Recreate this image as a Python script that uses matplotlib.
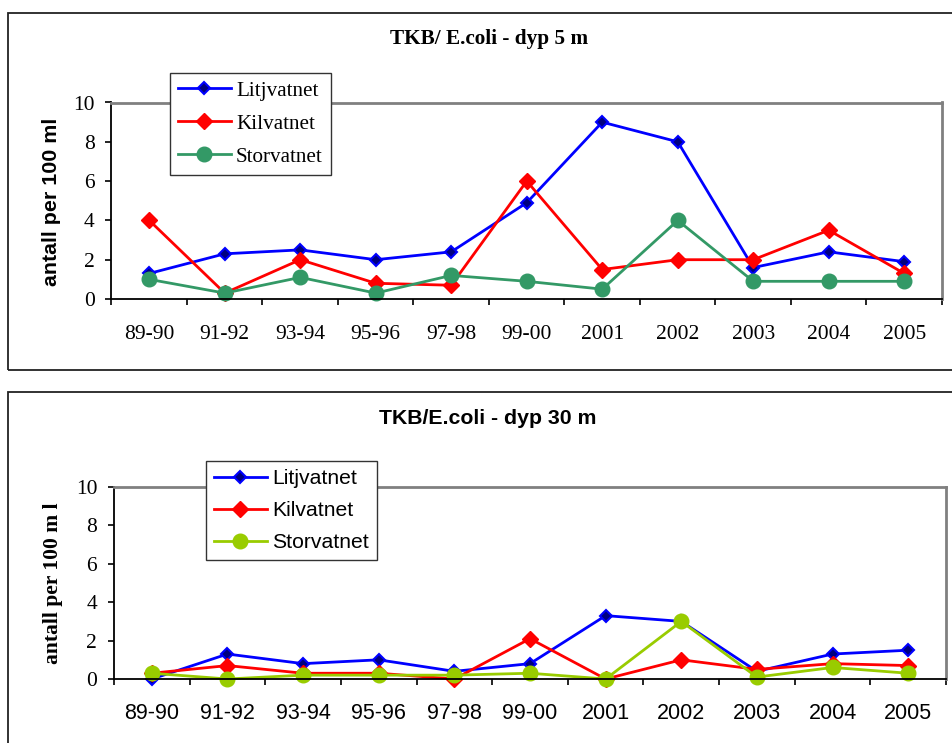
import numpy as np
import matplotlib
matplotlib.use("Agg")
from matplotlib import pyplot as plt
from matplotlib.patches import Rectangle

W, H = 953, 743

categories = ["89-90", "91-92", "93-94", "95-96", "97-98", "99-00",
              "2001", "2002", "2003", "2004", "2005"]

# dyp 5 m
lit_5 = [1.3, 2.3, 2.5, 2.0, 2.4, 4.9, 9.0, 8.0, 1.6, 2.4, 1.9]
kil_5 = [4.0, 0.3, 2.0, 0.8, 0.7, 6.0, 1.5, 2.0, 2.0, 3.5, 1.3]
sto_5 = [1.0, 0.3, 1.1, 0.3, 1.2, 0.9, 0.5, 4.0, 0.9, 0.9, 0.9]

# dyp 30 m
lit_30 = [0.0, 1.3, 0.8, 1.0, 0.4, 0.8, 3.3, 3.0, 0.4, 1.3, 1.5]
kil_30 = [0.3, 0.7, 0.3, 0.3, 0.0, 2.1, 0.0, 1.0, 0.5, 0.8, 0.7]
sto_30 = [0.3, 0.0, 0.2, 0.2, 0.2, 0.3, 0.0, 3.0, 0.1, 0.6, 0.3]

series_names = ["Litjvatnet", "Kilvatnet", "Storvatnet"]

SERIF = "Liberation Serif"
SANS = "Liberation Sans"

fig = plt.figure(figsize=(W / 100, H / 100), dpi=100)


def px_rect(left, top, right, bottom):
    return [left / W, 1 - bottom / H, (right - left) / W, (bottom - top) / H]


def panel_border(left, top, right, bottom):
    r = Rectangle((left / W, 1 - bottom / H), (right - left) / W, (bottom - top) / H,
                  transform=fig.transFigure, fill=False, edgecolor="#222222",
                  linewidth=1.3, zorder=0)
    fig.patches.append(r)


def draw_panel(rect, lit, kil, sto, sto_color, tick_font, legend_font, legend_anchor, xpad):
    ax = fig.add_axes(px_rect(*rect))
    x = np.arange(len(categories)) + 0.5
    ax.plot(x, lit, color="#0000FF", lw=2.0, marker="D", ms=6,
            mfc="#000080", mec="#0000FF", mew=1.5, clip_on=False, label=series_names[0])
    ax.plot(x, kil, color="#FF0000", lw=2.0, marker="D", ms=8,
            mfc="#FF0000", mec="#FF0000", clip_on=False, label=series_names[1])
    ax.plot(x, sto, color=sto_color, lw=2.0, marker="o", ms=10.5,
            mfc=sto_color, mec=sto_color, clip_on=False, label=series_names[2])

    ax.set_xlim(0, len(categories))
    ax.set_ylim(0, 10)
    ax.set_xticks(np.arange(len(categories) + 1))
    ax.set_xticklabels([])
    ax.set_xticks(x, minor=True)
    ax.set_xticklabels(categories, minor=True, fontfamily=tick_font, fontsize=15.5)
    ax.tick_params(axis="x", which="major", direction="out", length=4.5, width=1.2)
    ax.tick_params(axis="x", which="minor", length=0, pad=xpad)
    ax.set_yticks(range(0, 11, 2))
    ax.set_yticklabels([str(v) for v in range(0, 11, 2)], fontfamily=SERIF, fontsize=15.5)
    ax.tick_params(axis="y", direction="out", length=4.3, width=1.2, pad=7.8)

    for s in ("top", "right"):
        ax.spines[s].set_color("#808080")
        ax.spines[s].set_linewidth(2.0)
    for s in ("left", "bottom"):
        ax.spines[s].set_color("black")
        ax.spines[s].set_linewidth(1.3)

    leg = fig.legend(handles=ax.get_lines(), loc="upper left",
                     bbox_to_anchor=(legend_anchor[0] / W, 1 - legend_anchor[1] / H),
                     prop={"family": legend_font, "size": 15.2}, frameon=True,
                     fancybox=False, framealpha=1, edgecolor="#333333",
                     handlelength=2.5, handletextpad=0.25, labelspacing=0.62,
                     borderpad=0.38, borderaxespad=0)
    leg.get_frame().set_linewidth(1.0)
    return ax


# top panel
panel_border(8, 13, 960, 370)
draw_panel((111.5, 102.5, 942, 299), lit_5, kil_5, sto_5, "#339966", SERIF, SERIF,
           (170, 73), 19)
fig.text(489 / W, 1 - 39 / H, "TKB/ E.coli - dyp 5 m", ha="center", va="center",
         fontfamily=SERIF, fontweight="bold", fontsize=15.3)
fig.text(52 / W, 1 - 202 / H, "antall per 100 ml", ha="center", va="center",
         rotation=90, fontfamily=SANS, fontweight="bold", fontsize=15.4)

# bottom panel
panel_border(8, 392, 960, 760)
draw_panel((114, 487, 946, 679), lit_30, kil_30, sto_30, "#99CC00", SANS, SANS,
           (206, 461), 17)
fig.text(488 / W, 1 - 418 / H, "TKB/E.coli - dyp 30 m", ha="center", va="center",
         fontfamily=SANS, fontweight="bold", fontsize=15.3)
fig.text(53 / W, 1 - 583 / H, "antall per 100 m l", ha="center", va="center",
         rotation=90, fontfamily=SERIF, fontweight="bold", fontsize=15.5)

fig.savefig("out.png", dpi=100)
